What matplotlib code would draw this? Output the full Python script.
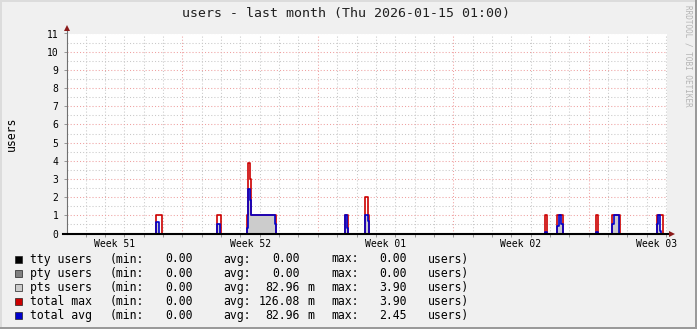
import matplotlib
matplotlib.use('Agg')
import matplotlib.pyplot as plt
from matplotlib.patches import Rectangle
import numpy as np
import pandas as pd

# users, last month -- rrdtool style
times = [
    '2025-12-15 01:00',
    '2025-12-19 15:00', '2025-12-19 19:00', '2025-12-19 23:00',
    '2025-12-22 19:00', '2025-12-22 22:30', '2025-12-22 23:30',
    '2025-12-24 08:00', '2025-12-24 09:30', '2025-12-24 11:30', '2025-12-24 13:00',
    '2025-12-25 18:30', '2025-12-25 20:00',
    '2025-12-29 10:00', '2025-12-29 12:00', '2025-12-29 14:00',
    '2025-12-30 11:00', '2025-12-30 14:00', '2025-12-30 16:00',
    '2026-01-08 18:00', '2026-01-08 20:00',
    '2026-01-09 09:00', '2026-01-09 10:30', '2026-01-09 11:30', '2026-01-09 14:00', '2026-01-09 15:30',
    '2026-01-11 09:00', '2026-01-11 12:00',
    '2026-01-12 05:00', '2026-01-12 07:00', '2026-01-12 14:00', '2026-01-12 15:00',
    '2026-01-14 12:00', '2026-01-14 14:00', '2026-01-14 16:00', '2026-01-14 18:00', '2026-01-14 20:00',
    '2026-01-15 01:00',
]
total_avg = [
    0,
    0.63, 0, 0,
    0.5, 0, 0,
    0.3, 2.45, 1.85, 1.0,
    0.5, 0,
    1.0, 0.28, 0,
    1.0, 0.67, 0,
    0.08, 0,
    0.4, 0.8, 1.0, 0.5, 0,
    0.06, 0,
    0.5, 1.0, 0, 0,
    0.5, 1.0, 0.12, 0, 0,
    0,
]
total_max = [
    0,
    1, 1, 0,
    1, 1, 0,
    1, 3.9, 3.0, 1.0,
    1.0, 0,
    1, 1, 0,
    2, 1, 0,
    1, 0,
    1, 1, 1, 1, 0,
    1, 0,
    1, 1, 1, 0,
    1, 1, 1, 1, 0,
    0,
]
pts_users = total_avg

legend_names = ['tty users', 'pty users', 'pts users', 'total max', 'total avg']
legend_colors = ['#000000', '#808080', '#CCCCCC', '#CC0000', '#0000CC']
stat_min = ['0.00', '0.00', '0.00', '0.00', '0.00']
stat_avg = ['0.00', '0.00', '82.96', '126.08', '82.96']
stat_avg_unit = ['', '', 'm', 'm', 'm']
stat_max = ['0.00', '0.00', '3.90', '3.90', '2.45']

W, H = 697, 329
MONO = 'DejaVu Sans Mono'
plt.rcParams['font.family'] = MONO


def fx(px):
    return px / W


def fy(py):
    return 1 - py / H


fig = plt.figure(figsize=(W / 100, H / 100), dpi=100, facecolor='#F0F0F0')

# 3d-ish frame
fig.add_artist(Rectangle((0, 0), fx(2), 1, transform=fig.transFigure, color='#DCDCDC', lw=0))
fig.add_artist(Rectangle((0, fy(2)), 1, 2 / H, transform=fig.transFigure, color='#DCDCDC', lw=0))
fig.add_artist(Rectangle((fx(695), 0), 2 / W, 1, transform=fig.transFigure, color='#9A9A9A', lw=0))
fig.add_artist(Rectangle((0, 0), 1, 2 / H, transform=fig.transFigure, color='#9A9A9A', lw=0))

ax = fig.add_axes([fx(67), fy(233.5), 600 / W, 200 / H])
ax.set_facecolor('white')

t = pd.to_datetime(times)
start = pd.Timestamp('2025-12-15 01:00')
end = pd.Timestamp('2026-01-15 01:00')
ax.set_xlim(start, end)
ax.set_ylim(0, 11)

# grid
for d in pd.date_range('2025-12-16', '2026-01-15', freq='D'):
    if d.dayofweek == 6:
        ax.axvline(d, color='#EFA0A0', lw=0.75, ls=(0, (1, 2)), zorder=0)
    else:
        ax.axvline(d, color='#C8C8C8', lw=0.75, ls=(0, (1, 2)), zorder=0)
for v in np.arange(0.5, 11.01, 0.5):
    if v == int(v):
        ax.axhline(v, color='#EFA0A0', lw=0.75, ls=(0, (1, 2)), zorder=0)
    else:
        ax.axhline(v, color='#C8C8C8', lw=0.75, ls=(0, (1, 2)), zorder=0)

# data
ax.fill_between(t, pts_users, step='post', color='#CCCCCC', lw=0, zorder=2)
ax.step(t, total_max, where='post', color='#CC0000', lw=1.2, zorder=3)
ax.step(t, total_avg, where='post', color='#0000CC', lw=1.2, zorder=4)

# axes
for s in ax.spines.values():
    s.set_visible(False)
ax.plot([0, 0], [0, 1.02], transform=ax.transAxes, color='#707070', lw=0.8, clip_on=False, zorder=5)
ax.plot([-0.006, 1.004], [0, 0], transform=ax.transAxes, color='black', lw=1.5, clip_on=False, zorder=5)
ax.plot([0], [1.026], marker='^', ms=4.5, color='#8B1A1A', mew=0, transform=ax.transAxes, clip_on=False, zorder=6)
ax.plot([1.0075], [0], marker='>', ms=4.5, color='#8B1A1A', mew=0, transform=ax.transAxes, clip_on=False, zorder=6)

week_mid = pd.date_range('2025-12-17 12:00', periods=5, freq='7D')
ax.set_xticks(week_mid)
ax.set_xticklabels([f"Week {d.isocalendar().week:02d}" for d in week_mid])
ax.set_xticks(pd.date_range('2025-12-16', '2026-01-15', freq='D'), minor=True)
ax.tick_params(axis='x', which='major', length=0, pad=4, labelsize=7)
ax.tick_params(axis='x', which='minor', length=2, width=0.6, color='#888888')
ax.set_yticks(range(0, 12))
ax.set_yticklabels([str(i) for i in range(0, 12)])
ax.tick_params(axis='y', length=2, width=0.6, color='#888888', pad=4, labelsize=7)

# texts
fig.text(fx(346.5), fy(13), 'users - last month (Thu 2026-01-15 01:00)',
         ha='center', va='center', fontsize=9.5, color='#202020')
fig.text(fx(11), fy(133.5), 'users', rotation=90, ha='center', va='center', fontsize=8.3)
fig.text(fx(688), fy(56), 'RRDTOOL / TOBI OETIKER', rotation=270, ha='center', va='center',
         fontsize=5.5, color='#B4B4B4')

# legend
row_y = [259, 273.3, 287.3, 301.7, 315.7]
for i, name in enumerate(legend_names):
    y = row_y[i]
    fig.add_artist(Rectangle((fx(15), fy(y + 3.5)), 7 / W, 7 / H, transform=fig.transFigure,
                             facecolor=legend_colors[i], edgecolor='#222222', lw=0.5))
    kw = dict(va='center', fontsize=8.3, color='#000000')
    fig.text(fx(30), fy(y), name, ha='left', **kw)
    fig.text(fx(110), fy(y), '(min:', ha='left', **kw)
    fig.text(fx(193), fy(y), stat_min[i], ha='right', **kw)
    fig.text(fx(223), fy(y), 'avg:', ha='left', **kw)
    fig.text(fx(300), fy(y), stat_avg[i], ha='right', **kw)
    if stat_avg_unit[i]:
        fig.text(fx(307), fy(y), stat_avg_unit[i], ha='left', **kw)
    fig.text(fx(331), fy(y), 'max:', ha='left', **kw)
    fig.text(fx(407), fy(y), stat_max[i], ha='right', **kw)
    fig.text(fx(428), fy(y), 'users)', ha='left', **kw)

fig.savefig('out.png', dpi=100, facecolor=fig.get_facecolor())
